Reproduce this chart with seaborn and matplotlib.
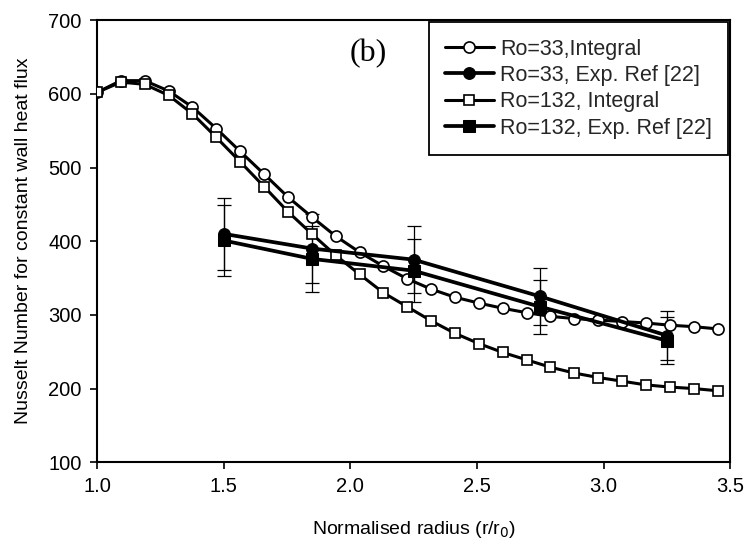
import numpy as np
import pandas as pd
import matplotlib
matplotlib.use("Agg")
import matplotlib.pyplot as plt
from matplotlib.ticker import FormatStrFormatter
import seaborn as sns

# ---- data ----
r_integral = [1.00, 1.094, 1.188, 1.283, 1.377, 1.471, 1.565, 1.660, 1.754, 1.848,
              1.942, 2.037, 2.131, 2.225, 2.319, 2.413, 2.508, 2.602, 2.696, 2.790,
              2.885, 2.979, 3.073, 3.167, 3.262, 3.356, 3.450]
nu_ro33_integral = [602, 618, 618, 604, 582, 553, 522, 491, 460, 433,
                    407, 385, 366, 349, 335, 324, 316, 309, 303, 298,
                    295, 293, 291, 289, 286, 284, 281]
nu_ro132_integral = [602, 616, 613, 598, 573, 541, 508, 474, 440, 410,
                     381, 355, 330, 311, 292, 275, 261, 249, 239, 229,
                     221, 215, 210, 205, 202, 200, 197]
r_exp = [1.5, 1.85, 2.25, 2.75, 3.25]
nu_ro33_exp = [410, 390, 375, 325, 272]
err_ro33_exp = [49, 47, 45, 39, 33]
nu_ro132_exp = [401, 376, 360, 311, 265]
err_ro132_exp = [48, 45, 43, 37, 32]

labels = ["Ro=33,Integral", "Ro=33, Exp. Ref [22]",
          "Ro=132, Integral", "Ro=132, Exp. Ref [22]"]
x_ticks = [1.0, 1.5, 2.0, 2.5, 3.0, 3.5]
y_ticks = [100, 200, 300, 400, 500, 600, 700]

sns.set_theme(style="white")
plt.rcParams["font.family"] = ["Liberation Sans", "DejaVu Sans"]

fig = plt.figure(figsize=(7.52, 5.47), dpi=100)
ax = fig.add_axes([0.129, 0.155, 0.842, 0.808])

# Ro=33 integral
sns.lineplot(x=r_integral, y=nu_ro33_integral, ax=ax, color="black", linewidth=2.2,
             marker="o", markersize=8, markerfacecolor="white",
             markeredgecolor="black", markeredgewidth=1.2, label=labels[0], zorder=3)
# Ro=33 experiment
sns.lineplot(x=r_exp, y=nu_ro33_exp, ax=ax, color="black", linewidth=2.7,
             marker="o", markersize=8.5, markerfacecolor="black",
             markeredgecolor="black", label=labels[1], zorder=4)
ax.errorbar(r_exp, nu_ro33_exp, yerr=err_ro33_exp, fmt="none", ecolor="black",
            elinewidth=0.9, capsize=5, capthick=0.9, zorder=2)
# Ro=132 integral
sns.lineplot(x=r_integral, y=nu_ro132_integral, ax=ax, color="black", linewidth=2.2,
             marker="s", markersize=7.5, markerfacecolor="white",
             markeredgecolor="black", markeredgewidth=1.2, label=labels[2], zorder=3)
# Ro=132 experiment
sns.lineplot(x=r_exp, y=nu_ro132_exp, ax=ax, color="black", linewidth=2.7,
             marker="s", markersize=8, markerfacecolor="black",
             markeredgecolor="black", label=labels[3], zorder=4)
ax.errorbar(r_exp, nu_ro132_exp, yerr=err_ro132_exp, fmt="none", ecolor="black",
            elinewidth=0.9, capsize=5, capthick=0.9, zorder=2)

ax.set_xlim(1.0, 3.5)
ax.set_ylim(100, 700)
ax.set_xticks(x_ticks)
ax.set_yticks(y_ticks)
ax.xaxis.set_major_formatter(FormatStrFormatter("%.1f"))
ax.tick_params(axis="both", which="major", direction="out", length=5, width=1.2,
               color="black", labelsize=14.5, labelcolor="black",
               bottom=True, left=True, top=False, right=False, pad=6)
for sp in ax.spines.values():
    sp.set_visible(True)
    sp.set_color("black")
    sp.set_linewidth(1.5)

ax.set_xlabel("Normalised radius (r/r$_0$)", fontsize=14, color="black", labelpad=16)
ax.set_ylabel("Nusselt Number for constant wall heat flux", fontsize=14,
              color="black", labelpad=12)

ax.text(2.07, 655, "(b)", fontsize=23, family=["Liberation Serif", "DejaVu Serif"],
        ha="center", va="center", color="black")

leg = ax.legend(loc="upper right", fontsize=15.5, frameon=True, fancybox=False,
                edgecolor="black", framealpha=1, borderaxespad=0.1,
                handlelength=2.25, handletextpad=0.3, labelspacing=0.25,
                borderpad=0.75)
leg.get_frame().set_linewidth(1.3)

fig.savefig("out.png", dpi=100)
